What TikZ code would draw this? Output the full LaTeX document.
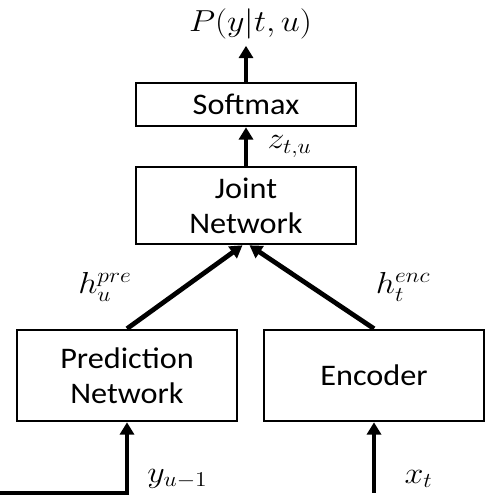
\documentclass[tikz,border=0pt]{standalone}
\usepackage{fontspec}
\setsansfont{Carlito}[FakeStretch=1.08]
\usetikzlibrary{arrows.meta}
\begin{document}
\begin{tikzpicture}[
    box/.style={draw, line width=1.5pt, minimum width=4.4cm, align=center, font=\sffamily\fontsize{17}{20}\selectfont},
    arr/.style={line width=2.7pt, -{Triangle[width=8pt,length=7pt]}},
    lbl/.style={font=\LARGE, xscale=1.12}]
    \useasboundingbox (0,0) rectangle (9.96,9.96);

    \node[box, minimum height=0.86cm] (softmax) at (4.92,7.87) {Softmax};
    \node[box, minimum height=1.54cm] (joint) at (4.92,5.85) {Joint\\Network};
    \node[box, minimum height=1.82cm] (pred) at (2.54,2.45) {Prediction\\Network};
    \node[box, minimum height=1.82cm] (enc) at (7.48,2.45) {Encoder};
    \node[lbl, anchor=base] (out) at (5.01,9.32) {$P(y|t,u)$};

    \coordinate (yin) at (0,0.1);
    \coordinate (xin) at (7.48,0.1);

    \draw[arr] (softmax.north) -- (softmax.north |- out.south);
    \draw[arr] (joint.north) -- (softmax.south) node[lbl, midway, right=0.22cm] {$z_{t,u}$};
    \draw[arr] (pred.north) -- ([xshift=-0.07cm]joint.south) node[lbl, midway, left=0.78cm] {$h_u^{pre}$};
    \draw[arr] (enc.north) -- ([xshift=0.07cm]joint.south) node[lbl, midway, right=0.98cm] {$h_t^{enc}$};
    \draw[arr] (yin) -| (pred.south) node[lbl, pos=0.6, right=0.2cm] {$y_{u-1}$};
    \draw[arr] (xin) -- (enc.south) node[lbl, pos=0.2, right=0.38cm] {$x_t$};

\end{tikzpicture}
\end{document}
